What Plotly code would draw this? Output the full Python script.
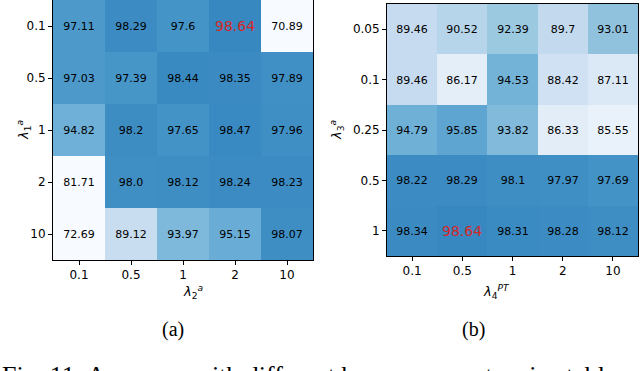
import plotly.graph_objects as go
import plotly.colors as pc

# panel (a)
a_x = ["0.1", "0.5", "1", "2", "10"]
a_y = ["0.1", "0.5", "1", "2", "10"]
a_vals = [
    [97.11, 98.29, 97.6, 98.64, 70.89],
    [97.03, 97.39, 98.44, 98.35, 97.89],
    [94.82, 98.2, 97.65, 98.47, 97.96],
    [81.71, 98.0, 98.12, 98.24, 98.23],
    [72.69, 89.12, 93.97, 95.15, 98.07],
]
a_best = (0, 3)

# panel (b)
b_x = ["0.1", "0.5", "1", "2", "10"]
b_y = ["0.05", "0.1", "0.25", "0.5", "1"]
b_vals = [
    [89.46, 90.52, 92.39, 89.7, 93.01],
    [89.46, 86.17, 94.53, 88.42, 87.11],
    [94.79, 95.85, 93.82, 86.33, 85.55],
    [98.22, 98.29, 98.1, 97.97, 97.69],
    [98.34, 98.64, 98.31, 98.28, 98.12],
]
b_best = (4, 1)

W, H = 640, 371
blues = pc.sequential.Blues
cscale = [[i / (len(blues) - 1), c] for i, c in enumerate(blues)]


def texts(vals, best):
    out = []
    for r, row in enumerate(vals):
        out.append(["" if (r, c) == best else str(v) for c, v in enumerate(row)])
    return out


fig = go.Figure()

fig.add_trace(go.Heatmap(
    x=a_x, y=a_y, z=a_vals, text=texts(a_vals, a_best), texttemplate="%{text}",
    textfont=dict(family="DejaVu Sans", size=11, color="black"),
    colorscale=cscale, zmin=84, zmax=106, showscale=False,
    xaxis="x", yaxis="y", hoverinfo="skip"))

fig.add_trace(go.Heatmap(
    x=b_x, y=b_y, z=b_vals, text=texts(b_vals, b_best), texttemplate="%{text}",
    textfont=dict(family="DejaVu Sans", size=11, color="black"),
    colorscale=cscale, zmin=84, zmax=106, showscale=False,
    xaxis="x2", yaxis="y2", hoverinfo="skip"))

# highlighted best cells (category axes: position by index)
for (vals, best, xr, yr) in [(a_vals, a_best, "x", "y"), (b_vals, b_best, "x2", "y2")]:
    r, c = best
    fig.add_annotation(x=c, y=r, xref=xr, yref=yr, text=str(vals[r][c]),
                       showarrow=False, font=dict(family="DejaVu Sans", size=14, color="#d62728"))


def px(v):
    return v / W


def py(v):
    return 1 - v / H


axis_common = dict(type="category", showline=True, linecolor="black", linewidth=1, mirror=True,
                   ticks="outside", ticklen=4, tickcolor="black", showgrid=False, zeroline=False,
                   tickfont=dict(family="DejaVu Sans", size=12, color="black"))

fig.update_layout(
    width=W, height=H, margin=dict(l=0, r=0, t=0, b=0),
    paper_bgcolor="white", plot_bgcolor="white", showlegend=False,
    xaxis=dict(domain=[px(53), px(313)], anchor="y", **axis_common),
    yaxis=dict(domain=[py(260), py(0)], anchor="x", autorange="reversed", **axis_common),
    xaxis2=dict(domain=[px(387), px(638)], anchor="y2", **axis_common),
    yaxis2=dict(domain=[py(256), py(4)], anchor="x2", autorange="reversed", **axis_common),
)

lab = dict(family="DejaVu Sans", size=13, color="black")
fig.add_annotation(x=px(181), y=py(281), xref="paper", yref="paper", yanchor="top", showarrow=False,
                   text="<i>λ</i><sub>2</sub><sup><i>a</i></sup>", font=lab)
fig.add_annotation(x=px(13), y=py(130), xref="paper", yref="paper", showarrow=False, textangle=-90,
                   text="<i>λ</i><sub>1</sub><sup><i>a</i></sup>", font=lab)
fig.add_annotation(x=px(512), y=py(281), xref="paper", yref="paper", yanchor="top", showarrow=False,
                   text="<i>λ</i><sub>4</sub><sup><i>PT</i></sup>", font=lab)
fig.add_annotation(x=px(337), y=py(130), xref="paper", yref="paper", showarrow=False, textangle=-90,
                   text="<i>λ</i><sub>3</sub><sup><i>a</i></sup>", font=lab)

cap = dict(family="Liberation Serif", size=20, color="black")
fig.add_annotation(x=px(160), y=py(316), xref="paper", yref="paper", yanchor="top", showarrow=False,
                   text="(a)", font=cap)
fig.add_annotation(x=px(487), y=py(316), xref="paper", yref="paper", yanchor="top", showarrow=False,
                   text="(b)", font=cap)
fig.add_annotation(x=0, y=py(359), xref="paper", yref="paper", xanchor="left", yanchor="top",
                   showarrow=False, text="Fig. 11: Accuracy with different hyper-parameters in stable",
                   font=dict(family="Liberation Serif", size=26, color="black"))

fig.write_html("out.html", config={"displayModeBar": False},
               post_script="document.body.style.margin='0';")
